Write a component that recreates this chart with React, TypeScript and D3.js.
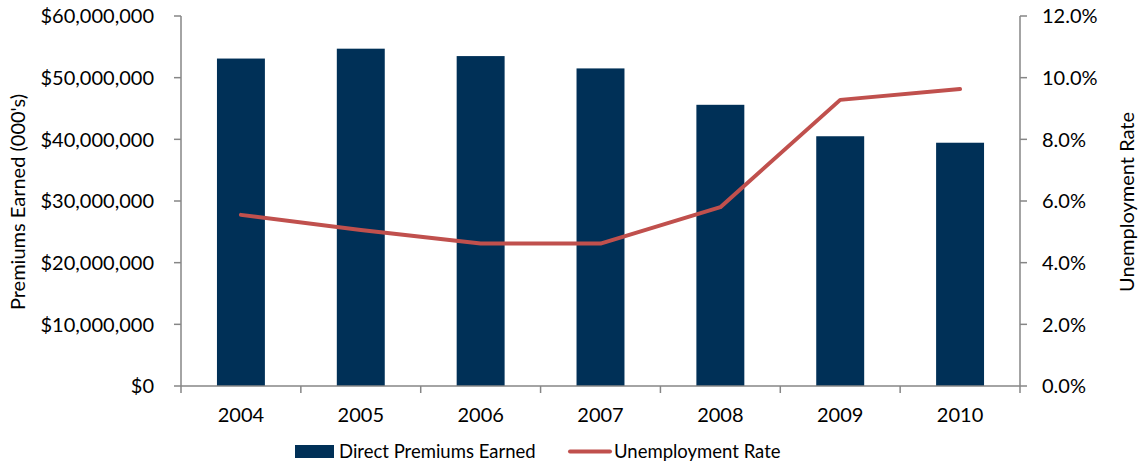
import React from "react";
import * as d3 from "d3";

const years = ["2004", "2005", "2006", "2007", "2008", "2009", "2010"];
const premiums = [53100000, 54700000, 53500000, 51500000, 45600000, 40500000, 39450000];
const unemployment = [5.55, 5.06, 4.62, 4.62, 5.8, 9.28, 9.63];
const leftTicks = [0, 10000000, 20000000, 30000000, 40000000, 50000000, 60000000];
const rightTicks = [0, 2, 4, 6, 8, 10, 12];

const W = 1139;
const H = 467;
const M = { left: 181, right: 1020, top: 16, bottom: 386 };
const FONT = "Lato, 'Open Sans', sans-serif";
const AXIS = "#868686";
const TICK_FS = 20;

export default function App() {
  const band = d3.scaleBand<string>().domain(years).range([M.left, M.right]);
  const yL = d3.scaleLinear().domain([0, 60000000]).range([M.bottom, M.top]);
  const yR = d3.scaleLinear().domain([0, 12]).range([M.bottom, M.top]);
  const fmtL = (v: number) => "$" + d3.format(",")(v);
  const fmtR = (v: number) => v.toFixed(1) + "%";
  const cx = (y: string) => (band(y) as number) + band.bandwidth() / 2;
  const line = d3
    .line<number>()
    .x((_, i) => cx(years[i]))
    .y((d) => yR(d));
  const bw = band.bandwidth() * 0.4;

  return (
    <svg width={W} height={H} style={{ position: "absolute", left: 0, top: 0 }} fontFamily={FONT}>
      <rect width={W} height={H} fill="#fff" />
      {years.map((y, i) => (
        <rect key={y} x={cx(y) - bw / 2} y={yL(premiums[i])} width={bw} height={M.bottom - yL(premiums[i])} fill="#003057" />
      ))}
      {/* left axis */}
      <line x1={M.left} x2={M.left} y1={M.top} y2={M.bottom} stroke={AXIS} strokeWidth={1.5} />
      {leftTicks.map((t) => (
        <g key={t}>
          <line x1={M.left - 7} x2={M.left} y1={yL(t)} y2={yL(t)} stroke={AXIS} strokeWidth={1.5} />
          <text x={154} y={yL(t)} dy="0.36em" textAnchor="end" fontSize={TICK_FS} fill="#000">
            {fmtL(t)}
          </text>
        </g>
      ))}
      {/* right axis */}
      <line x1={M.right} x2={M.right} y1={M.top} y2={M.bottom} stroke={AXIS} strokeWidth={1.5} />
      {rightTicks.map((t) => (
        <g key={t}>
          <line x1={M.right} x2={M.right + 7} y1={yR(t)} y2={yR(t)} stroke={AXIS} strokeWidth={1.5} />
          <text x={1042} y={yR(t)} dy="0.36em" textAnchor="start" fontSize={TICK_FS} fill="#000">
            {fmtR(t)}
          </text>
        </g>
      ))}
      {/* bottom axis */}
      <line x1={M.left} x2={M.right} y1={M.bottom} y2={M.bottom} stroke={AXIS} strokeWidth={1.5} />
      {years.map((y) => (
        <line key={"t" + y} x1={band(y) as number} x2={band(y) as number} y1={M.bottom} y2={M.bottom + 7} stroke={AXIS} strokeWidth={1.5} />
      ))}
      <line x1={M.right} x2={M.right} y1={M.bottom} y2={M.bottom + 7} stroke={AXIS} strokeWidth={1.5} />
      {years.map((y) => (
        <text key={"l" + y} x={cx(y)} y={415} dy="0.36em" textAnchor="middle" fontSize={TICK_FS} fill="#000">
          {y}
        </text>
      ))}
      {/* line */}
      <path d={line(unemployment) || ""} fill="none" stroke="#C0504D" strokeWidth={4} strokeLinejoin="round" strokeLinecap="round" />
      {/* axis titles */}
      <text transform={`translate(25,${(M.top + M.bottom) / 2 + 1}) rotate(-90)`} textAnchor="middle" fontSize={20} fill="#000">
        Premiums Earned (000's)
      </text>
      <text transform={`translate(1134,${(M.top + M.bottom) / 2 + 1}) rotate(-90)`} textAnchor="middle" fontSize={20} fill="#000">
        Unemployment Rate
      </text>
      {/* legend */}
      <rect x={295} y={445} width={39} height={13} fill="#003057" />
      <text x={339} y={451.5} dy="0.36em" fontSize={18.5} fill="#000">
        Direct Premiums Earned
      </text>
      <line x1={570} x2={610} y1={451.5} y2={451.5} stroke="#C0504D" strokeWidth={4} strokeLinecap="round" />
      <text x={614} y={451.5} dy="0.36em" fontSize={18.5} fill="#000">
        Unemployment Rate
      </text>
    </svg>
  );
}
